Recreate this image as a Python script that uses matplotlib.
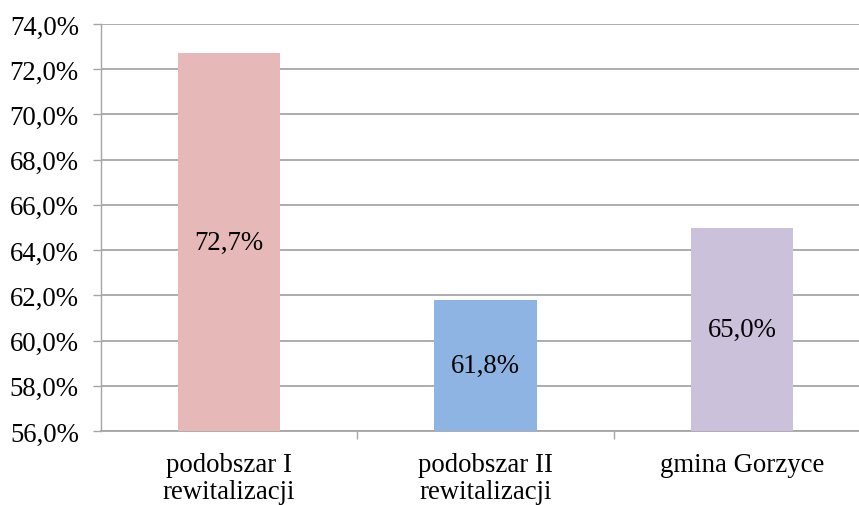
import matplotlib
matplotlib.use("Agg")
import matplotlib.pyplot as plt
from matplotlib.ticker import FuncFormatter, MultipleLocator

categories = ["podobszar I\nrewitalizacji", "podobszar II\nrewitalizacji", "gmina Gorzyce"]
values = [72.7, 61.8, 65.0]
colors = ["#E6B9B8", "#8EB4E3", "#CCC1DA"]

plt.rcParams['font.family'] = ['Liberation Serif', 'DejaVu Serif']
fs = 19.3

fig = plt.figure(figsize=(8.59, 5.06), dpi=100)
W, H = 859, 506
left, right, top, bottom = 101, 870, 25, 432
ax = fig.add_axes([left / W, 1 - bottom / H, (right - left) / W, (bottom - top) / H])

x = list(range(len(categories)))
ax.bar(x, [v - 56 for v in values], bottom=56, width=0.40, color=colors, zorder=3)
for xi, v in zip(x, values):
    ax.text(xi, (56 + v) / 2, f"{v:.1f}%".replace(".", ","), ha="center", va="center",
            fontsize=fs, color="black", zorder=4)

ax.set_xlim(-0.5, 2.5)
ax.set_ylim(56, 74)
ax.yaxis.set_major_locator(MultipleLocator(2))
ax.yaxis.set_major_formatter(FuncFormatter(lambda v, p: f"{v:.1f}%".replace(".", ",")))
ax.grid(axis="y", color="#A6A6A6", linewidth=1.3, zorder=0)

ax.set_xticks([0.5, 1.5])
ax.set_xticklabels([])
ax.set_xticks(x, minor=True)
ax.set_xticklabels(categories, minor=True, fontsize=fs, linespacing=1.1)
ax.tick_params(axis="x", which="minor", length=0, pad=15)
ax.tick_params(axis="x", which="major", length=6, color="#A6A6A6", width=1.0)
ax.tick_params(axis="y", length=6, color="#A6A6A6", width=1.0, labelsize=fs, pad=10)

for s in ["top", "right"]:
    ax.spines[s].set_visible(False)
ax.spines["left"].set_color("#A6A6A6")
ax.spines["bottom"].set_color("#A6A6A6")
ax.spines["left"].set_linewidth(1.0)
ax.spines["bottom"].set_linewidth(1.3)

fig.savefig("out.png", dpi=100)
